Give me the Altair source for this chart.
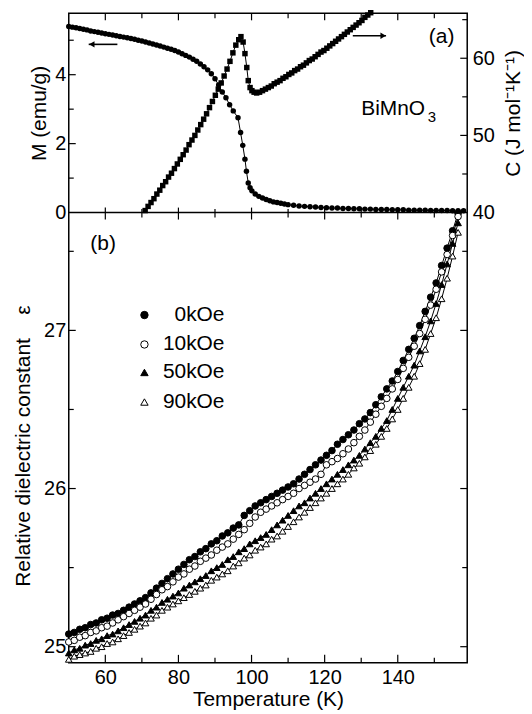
import altair as alt
import pandas as pd

# ---------------- data ----------------
# (a) magnetization M (emu/g) vs T (K)
T_M = [50, 51, 52, 53, 54, 55, 56, 57, 58, 59, 60, 61, 62, 63, 64, 65, 66, 67, 68, 69,
       70, 71, 72, 73, 74, 75, 76, 77, 78, 79, 80, 81, 82, 83, 84, 85, 86, 87, 88, 89,
       90, 91, 92, 93, 94, 95, 96.3, 97.0, 97.6, 98.2, 98.6, 99.1, 99.6, 100.1, 101, 102,
       103, 104, 105, 106, 107, 108, 109, 110, 111.5, 113, 114.5, 116, 117.5, 119, 120.5,
       122, 123.5, 125, 126.5, 128, 129.5, 131, 132.5, 134, 135.5, 137, 138.5, 140, 141.5,
       143, 144.5, 146, 147.5, 149, 150.5, 152, 153.5, 155, 156.5, 158]
M_VAL = [5.40, 5.38, 5.36, 5.34, 5.32, 5.30, 5.27, 5.25, 5.23, 5.21, 5.19, 5.17, 5.15, 5.13,
         5.11, 5.09, 5.07, 5.05, 5.03, 5.00, 4.98, 4.95, 4.92, 4.89, 4.86, 4.83, 4.80, 4.77,
         4.74, 4.70, 4.66, 4.61, 4.56, 4.51, 4.45, 4.39, 4.31, 4.23, 4.14, 4.03, 3.88, 3.70,
         3.50, 3.33, 3.13, 2.95, 2.75, 2.32, 1.95, 1.55, 1.20, 0.86, 0.72, 0.63, 0.54, 0.47,
         0.42, 0.38, 0.34, 0.31, 0.29, 0.27, 0.25, 0.23, 0.21, 0.19, 0.18, 0.17, 0.16, 0.15,
         0.14, 0.13, 0.13, 0.12, 0.12, 0.11, 0.11, 0.10, 0.10, 0.09, 0.09, 0.09, 0.08, 0.08,
         0.08, 0.07, 0.07, 0.07, 0.07, 0.06, 0.06, 0.06, 0.06, 0.05, 0.05, 0.05]

# (a) specific heat C (J mol-1 K-1) vs T (K)
T_C = [70.9, 71.7, 72.5, 73.3, 74.1, 74.9, 75.7, 76.5, 77.3, 78.1, 78.9, 79.7, 80.5, 81.3,
       82.1, 82.9, 83.7, 84.5, 85.3, 86.1, 86.9, 87.7, 88.5, 89.3, 90.1, 90.9, 91.7, 92.5,
       93.3, 94.1, 94.9, 95.7, 96.5, 97.1, 97.7, 98.2, 98.7, 99.1, 99.6, 100.1, 100.7, 101.4,
       102.2, 103.0, 103.8, 104.6, 105.4, 106.2, 107.0, 107.8, 108.6, 109.4, 110.2, 111.0,
       111.8, 112.6, 113.4, 114.2, 115.0, 115.8, 116.6, 117.4, 118.2, 119.0, 119.8, 120.6,
       121.4, 122.2, 123.0, 123.8, 124.6, 125.4, 126.2, 127.0, 127.8, 128.6, 129.4, 130.2,
       131.0, 131.8, 132.6]
C_VAL = [40.26, 40.8, 41.3, 41.8, 42.4, 42.9, 43.5, 44.0, 44.6, 45.1, 45.7, 46.3, 46.9, 47.5,
         48.1, 48.8, 49.4, 50.0, 50.7, 51.4, 52.1, 52.8, 53.6, 54.4, 55.2, 56.0, 56.8, 57.7,
         58.6, 59.6, 60.7, 61.7, 62.4, 62.8, 62.1, 60.6, 58.8, 57.1, 56.2, 55.8, 55.6, 55.5,
         55.6, 55.8, 56.0, 56.2, 56.4, 56.7, 56.9, 57.1, 57.4, 57.6, 57.9, 58.1, 58.4, 58.6,
         58.9, 59.1, 59.4, 59.7, 59.9, 60.2, 60.5, 60.8, 61.0, 61.3, 61.6, 61.9, 62.2, 62.5,
         62.8, 63.1, 63.4, 63.7, 64.0, 64.3, 64.6, 64.9, 65.3, 65.6, 65.9]

# (b) relative dielectric constant vs T (K) for four fields
T_EPS = [50, 51.5, 53, 54.5, 56, 57.5, 59, 60.5, 62, 63.5, 65, 66.5, 68, 69.5, 71, 72.5, 74,
         75.5, 77, 78.5, 80, 81.5, 83, 84.5, 86, 87.5, 89, 90.5, 92, 93.5, 95, 96.5, 98, 99.5,
         101, 102.5, 104, 105.5, 107, 108.5, 110, 111.5, 113, 114.5, 116, 117.5, 119, 120.5,
         122, 123.5, 125, 126.5, 128, 129.5, 131, 132.5, 134, 135.5, 137, 138.5, 140, 141.5,
         143, 144.5, 146, 147.5, 149, 150.5, 152, 153.5, 155, 156.5]
EPS_0 = [25.08, 25.09, 25.11, 25.12, 25.14, 25.15, 25.17, 25.18, 25.20, 25.21, 25.23, 25.25,
         25.27, 25.29, 25.31, 25.34, 25.37, 25.40, 25.43, 25.46, 25.49, 25.52, 25.55, 25.57,
         25.60, 25.62, 25.65, 25.67, 25.70, 25.72, 25.75, 25.77, 25.83, 25.86, 25.89, 25.91,
         25.93, 25.95, 25.97, 25.99, 26.01, 26.03, 26.06, 26.09, 26.12, 26.15, 26.18, 26.21,
         26.24, 26.28, 26.31, 26.34, 26.37, 26.41, 26.44, 26.48, 26.53, 26.58, 26.63, 26.68,
         26.74, 26.81, 26.88, 26.95, 27.03, 27.12, 27.21, 27.30, 27.41, 27.52, 27.63, 27.74]
EPS_10 = [25.03, 25.04, 25.06, 25.07, 25.09, 25.10, 25.12, 25.13, 25.15, 25.17, 25.19, 25.21,
          25.23, 25.25, 25.27, 25.30, 25.33, 25.36, 25.38, 25.41, 25.44, 25.46, 25.49, 25.51,
          25.54, 25.56, 25.58, 25.61, 25.63, 25.65, 25.68, 25.71, 25.74, 25.78, 25.82, 25.85,
          25.87, 25.89, 25.91, 25.93, 25.95, 25.97, 26.00, 26.02, 26.04, 26.06, 26.09, 26.15,
          26.17, 26.19, 26.22, 26.25, 26.29, 26.33, 26.37, 26.42, 26.47, 26.52, 26.57, 26.63,
          26.69, 26.76, 26.83, 26.90, 26.98, 27.07, 27.16, 27.26, 27.37, 27.48, 27.60, 27.72]
EPS_50 = [24.96, 24.98, 24.99, 25.01, 25.02, 25.04, 25.05, 25.07, 25.08, 25.10, 25.12, 25.14,
          25.16, 25.18, 25.20, 25.23, 25.25, 25.28, 25.30, 25.32, 25.34, 25.37, 25.39, 25.41,
          25.43, 25.45, 25.48, 25.50, 25.52, 25.55, 25.57, 25.60, 25.62, 25.65, 25.67, 25.69,
          25.71, 25.74, 25.77, 25.80, 25.83, 25.86, 25.89, 25.91, 25.94, 25.97, 26.00, 26.03,
          26.06, 26.09, 26.12, 26.15, 26.18, 26.21, 26.25, 26.29, 26.33, 26.38, 26.43, 26.50,
          26.57, 26.64, 26.71, 26.78, 26.87, 26.96, 27.06, 27.17, 27.29, 27.42, 27.55, 27.68]
EPS_90 = [24.92, 24.94, 24.95, 24.96, 24.97, 24.99, 25.00, 25.02, 25.03, 25.05, 25.07, 25.09,
          25.11, 25.13, 25.15, 25.18, 25.20, 25.23, 25.25, 25.27, 25.29, 25.31, 25.33, 25.35,
          25.37, 25.39, 25.42, 25.44, 25.46, 25.48, 25.51, 25.53, 25.56, 25.58, 25.61, 25.63,
          25.65, 25.68, 25.70, 25.73, 25.76, 25.79, 25.82, 25.85, 25.88, 25.91, 25.94, 25.97,
          26.00, 26.03, 26.06, 26.09, 26.13, 26.16, 26.20, 26.24, 26.28, 26.33, 26.38, 26.44,
          26.50, 26.57, 26.64, 26.71, 26.79, 26.88, 26.98, 27.08, 27.20, 27.33, 27.47, 27.62]

FIELDS = ["0kOe", "10kOe", "50kOe", "90kOe"]
SHAPES = ["circle", "circle", "triangle-up", "triangle-up"]
FILLS = ["black", "white", "black", "white"]

# legend placement (data coordinates of panel b)
LEG_T_SYMBOL = 70.7
LEG_T_TEXT = 92.6
LEG_E = [27.097, 26.911, 26.734, 26.547]

# tick / label values
X_LABELS = [60, 80, 100, 120, 140]
X_MINOR = [70, 90, 110, 130, 150]
M_LABELS = [0, 2, 4]
M_MAJOR = [2, 4]
M_MINOR = [1, 3, 5]
C_LABELS = [40, 50, 60]
C_MAJOR = [50, 60]
C_MINOR = [45, 55, 65]
E_LABELS = [25, 26, 27]
E_MAJOR = [25, 26, 27]
E_MINOR = [25.5, 26.5, 27.5]

# annotations (data coordinates)
ANN_A = {"T": [155.5], "M": [5.09], "txt": ["(a)"]}
ANN_COMP = {"T": [130.0], "M": [2.99], "txt": ["BiMnO"]}
ANN_SUB = {"T": [148.2], "M": [2.78], "txt": ["3"]}
ANN_B = {"T": [55.9], "E": [27.544], "txt": ["(b)"]}
ARROW_TAIL = [63.3, 127.7]
ARROW_TIP = [55.45, 136.8]
ARROW_M = [4.88, 5.13]
ARROW_HEAD_T = [56.3, 136.0]
ARROW_HEAD_SHAPE = ["triangle-left", "triangle-right"]

# ---------------- layout ----------------
W, H, H_TOP = 400, 652, 200
FONT = "Liberation Sans"

x_scale = alt.Scale(domain=[50, 159], nice=False, zero=False)
m_scale = alt.Scale(domain=[0, 5.78], range=[H_TOP, 0], nice=False, zero=False)
c_scale = alt.Scale(domain=[40, 65.82], range=[H_TOP, 0], nice=False, zero=False)
e_scale = alt.Scale(domain=[24.898, 27.745], range=[H, H_TOP], nice=False, zero=False)

x_axis = alt.Axis(orient="bottom", values=X_LABELS, title="Temperature (K)", labelPadding=5,
                  titlePadding=1, format="d")
m_axis = alt.Axis(orient="left", values=M_LABELS, title="M (emu/g)", labelPadding=3,
                  titlePadding=5, format="d")
c_axis = alt.Axis(orient="right", values=C_LABELS, title="C (J mol\u207b\u00b9K\u207b\u00b9)",
                  labelPadding=5, titlePadding=8, titleAngle=270, titleBaseline="top", format="d")
e_axis = alt.Axis(orient="left", values=E_LABELS,
                  title="Relative dielectric constant\u00a0\u00a0\u00a0\u00a0\u03b5",
                  labelPadding=3, titlePadding=10, format="d", titleY=434)


def X(field="T"):
    return alt.X(f"{field}:Q", scale=x_scale, axis=x_axis, title="Temperature (K)")


m_df = pd.DataFrame({"T": T_M, "M": M_VAL})
c_df = pd.DataFrame({"T": T_C, "C": C_VAL})
e_df = pd.concat([
    pd.DataFrame({"T": T_EPS, "E": vals, "B": name})
    for name, vals in zip(FIELDS, [EPS_0, EPS_10, EPS_50, EPS_90])
], ignore_index=True)
leg_df = pd.DataFrame({"B": FIELDS, "E": LEG_E, "T": [LEG_T_SYMBOL] * 4, "TT": [LEG_T_TEXT] * 4})

shape_enc = alt.Shape("B:N", scale=alt.Scale(domain=FIELDS, range=SHAPES), legend=None)
fill_enc = alt.Fill("B:N", scale=alt.Scale(domain=FIELDS, range=FILLS), legend=None)

e_line = alt.Chart(e_df).mark_line(color="black", strokeWidth=1).encode(
    x=X(), y=alt.Y("E:Q", scale=e_scale, axis=e_axis), detail="B:N")
e_pts = alt.Chart(e_df).mark_point(stroke="black", strokeWidth=1, size=44, opacity=1).encode(
    x=X(), y=alt.Y("E:Q", scale=e_scale, axis=None), shape=shape_enc, fill=fill_enc)

m_line = alt.Chart(m_df).mark_line(color="black", strokeWidth=1).encode(
    x=X(), y=alt.Y("M:Q", scale=m_scale, axis=m_axis))
m_pts = alt.Chart(m_df).mark_point(shape="circle", filled=True, color="black", size=30, opacity=1).encode(
    x=X(), y=alt.Y("M:Q", scale=m_scale, axis=None))

c_line = alt.Chart(c_df).mark_line(color="black", strokeWidth=1).encode(
    x=X(), y=alt.Y("C:Q", scale=c_scale, axis=c_axis))
c_pts = alt.Chart(c_df).mark_point(shape="square", filled=True, color="black", size=30, opacity=1).encode(
    x=X(), y=alt.Y("C:Q", scale=c_scale, axis=None))

leg_sym = alt.Chart(leg_df).mark_point(stroke="black", strokeWidth=1, size=55, opacity=1).encode(
    x=X(), y=alt.Y("E:Q", scale=e_scale, axis=None), shape=shape_enc, fill=fill_enc)
leg_txt = alt.Chart(leg_df).mark_text(align="right", baseline="middle", fontSize=21, font=FONT,
                                      color="black").encode(
    x=X("TT"), y=alt.Y("E:Q", scale=e_scale, axis=None), text="B:N")

# divider between the two panels (M = 0 line)
divider = alt.Chart(pd.DataFrame({"T": [50], "T2": [159], "M": [0]})).mark_rule(
    color="black", strokeWidth=1.5).encode(
    x=X(), x2="T2:Q", y=alt.Y("M:Q", scale=m_scale, axis=None))

TICK_W = 1.2


def vticks(vals, y0, y1):
    return alt.Chart(pd.DataFrame({"T": vals})).mark_rule(color="black", strokeWidth=TICK_W).encode(
        x=X(), y=alt.value(y0), y2=alt.value(y1))


def hticks(vals, scale, x0, x1):
    return alt.Chart(pd.DataFrame({"v": vals})).mark_rule(color="black", strokeWidth=TICK_W).encode(
        y=alt.Y("v:Q", scale=scale, axis=None), x=alt.value(x0), x2=alt.value(x1))


ticks = [
    vticks(X_LABELS, 0, 7), vticks(X_MINOR, 0, 5),
    vticks(X_LABELS, H_TOP, H_TOP - 5), vticks(X_MINOR, H_TOP, H_TOP - 3.5),
    vticks(X_LABELS, H_TOP, H_TOP + 7), vticks(X_MINOR, H_TOP, H_TOP + 5),
    vticks(X_LABELS, H, H - 8), vticks(X_MINOR, H, H - 5),
    hticks(M_MAJOR, m_scale, 0, 7), hticks(M_MINOR, m_scale, 0, 5),
    hticks(C_MAJOR, c_scale, W, W - 7), hticks(C_MINOR, c_scale, W, W - 5),
    hticks(E_MAJOR, e_scale, 0, 7), hticks(E_MINOR, e_scale, 0, 5),
    hticks(E_MAJOR, e_scale, W, W - 7), hticks(E_MINOR, e_scale, W, W - 5),
]


def label(d, ycol, scale, align, size):
    return alt.Chart(pd.DataFrame(d)).mark_text(align=align, baseline="middle", fontSize=size,
                                                font=FONT, color="black").encode(
        x=X(), y=alt.Y(f"{ycol}:Q", scale=scale, axis=None), text="txt:N")


txt_a = label(ANN_A, "M", m_scale, "right", 21)
txt_comp = label(ANN_COMP, "M", m_scale, "left", 21)
txt_sub = label(ANN_SUB, "M", m_scale, "left", 15)
txt_b = label(ANN_B, "E", e_scale, "left", 21)

arrow_df = pd.DataFrame({"T": ARROW_TAIL, "T2": ARROW_TIP, "M": ARROW_M,
                         "TH": ARROW_HEAD_T, "shape": ARROW_HEAD_SHAPE})
arrow_shaft = alt.Chart(arrow_df).mark_rule(color="black", strokeWidth=1.6).encode(
    x=X(), x2="T2:Q", y=alt.Y("M:Q", scale=m_scale, axis=None))
arrow_head = alt.Chart(arrow_df).mark_point(filled=True, color="black", size=40, opacity=1).encode(
    x=X("TH"), y=alt.Y("M:Q", scale=m_scale, axis=None),
    shape=alt.Shape("shape:N", scale=None, legend=None))

chart = alt.layer(
    e_line, e_pts, m_line, m_pts, c_line, c_pts, divider, *ticks,
    txt_a, txt_comp, txt_sub, txt_b, arrow_shaft, arrow_head, leg_sym, leg_txt,
).resolve_scale(y="independent").resolve_axis(x="shared").properties(
    width=W, height=H, padding={"left": 4, "top": 0, "right": 0, "bottom": 0}
).configure_view(stroke="black", strokeWidth=1.5).configure_axis(
    domain=False, ticks=False, grid=False, labelFont=FONT, titleFont=FONT, labelFontSize=20,
    titleFontSize=21, titleFontWeight="normal", labelColor="black", titleColor="black",
    labelFlush=False, labelOverlap=False,
)

chart.save("out.html", embed_options={"renderer": "svg", "actions": False})
